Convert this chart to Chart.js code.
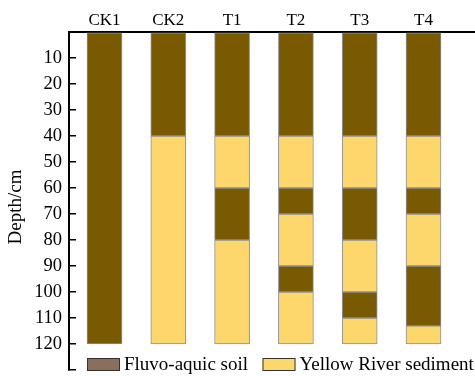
<!DOCTYPE html>
<html>
<head>
<meta charset="utf-8">
<script src="https://cdn.jsdelivr.net/npm/chart.js@4/dist/chart.umd.min.js"></script>
<style>
  html, body { margin: 0; padding: 0; background: #fff; overflow: hidden; }
  #wrap { width: 475px; height: 376px; position: relative; }
</style>
</head>
<body>
<div id="wrap"><canvas id="c" width="475" height="376"></canvas></div>
<script>
// Profiles (top axis categories)
const categories = ['CK1', 'CK2', 'T1', 'T2', 'T3', 'T4'];

// Depth intervals (cm) of each layer type in each profile
const soilLayers = [
  [[0, 120]],
  [[0, 40]],
  [[0, 40], [60, 80]],
  [[0, 40], [60, 70], [90, 100]],
  [[0, 40], [60, 80], [100, 110]],
  [[0, 40], [60, 70], [90, 113]]
];
const sedimentLayers = [
  [],
  [[40, 120]],
  [[40, 60], [80, 120]],
  [[40, 60], [70, 90], [100, 120]],
  [[40, 60], [80, 100], [110, 120]],
  [[40, 60], [70, 90], [113, 120]]
];

const seriesNames = ['Fluvo-aquic soil', 'Yellow River sediment'];
const depthTicks = [10, 20, 30, 40, 50, 60, 70, 80, 90, 100, 110, 120];
const yTitle = 'Depth/cm';

const barColors = ['#7a5a00', '#fed76c'];
const legendColors = ['#8c6e5c', '#fed76c'];

function toPoints(layers) {
  const out = [];
  layers.forEach((segs, i) => segs.forEach(s => out.push({ x: i + 1, y: [s[0], s[1]] })));
  return out;
}

const FONT = '"Liberation Serif", "Times New Roman", serif';
Chart.defaults.font.family = FONT;
Chart.defaults.font.size = 17;
Chart.defaults.color = '#000';

const overlayPlugin = {
  id: 'innerLegend',
  afterDraw(chart) {
    const ctx = chart.ctx;
    const area = chart.chartArea;
    const y = area.bottom - 5.5;
    const starts = [area.left + 18, area.left + 193.5];
    ctx.save();
    ctx.font = '19px ' + FONT;
    ctx.textBaseline = 'middle';
    ctx.textAlign = 'left';
    chart.data.datasets.forEach((ds, i) => {
      const x = starts[i];
      ctx.fillStyle = legendColors[i];
      ctx.fillRect(x, y - 6.5, 33, 13);
      ctx.lineWidth = 1;
      ctx.strokeStyle = '#333';
      ctx.strokeRect(x + 0.5, y - 6, 32, 12);
      ctx.fillStyle = '#000';
      ctx.fillText(ds.label, x + 37, y + 1);
    });
    // y-axis title
    ctx.translate(16.5, (area.top + area.bottom) / 2 + 6);
    ctx.rotate(-Math.PI / 2);
    ctx.textAlign = 'center';
    ctx.font = '19px ' + FONT;
    ctx.fillText(yTitle, 0, 0);
    ctx.restore();
  }
};

new Chart(document.getElementById('c'), {
  type: 'bar',
  data: {
    datasets: [
      {
        label: seriesNames[0],
        data: toPoints(soilLayers),
        backgroundColor: barColors[0],
        borderColor: '#8a909a',
        borderWidth: 1,
        borderSkipped: false,
        barThickness: 35,
        grouped: false
      },
      {
        label: seriesNames[1],
        data: toPoints(sedimentLayers),
        backgroundColor: barColors[1],
        borderColor: '#8a909a',
        borderWidth: 1,
        borderSkipped: false,
        barThickness: 35,
        grouped: false
      }
    ]
  },
  options: {
    responsive: false,
    animation: false,
    devicePixelRatio: 1,
    layout: { autoPadding: false, padding: { top: 0, left: 0, right: 0, bottom: 6 } },
    plugins: {
      legend: { display: false },
      tooltip: { enabled: false }
    },
    scales: {
      x: {
        type: 'linear',
        position: 'top',
        offset: false,
        min: 0.4436,
        max: 6.807,
        grid: { display: false, drawTicks: false, offset: false },
        border: { display: true, color: '#000', width: 2 },
        afterBuildTicks(scale) {
          scale.ticks = categories.map((c, i) => ({ value: i + 1 }));
        },
        afterFit(scale) {
          scale.height = 32;
          scale.paddingLeft = 0; scale.paddingRight = 0;
          scale.paddingTop = 0; scale.paddingBottom = 0;
        },
        ticks: {
          padding: 1,
          autoSkip: false,
          maxRotation: 0,
          callback: (v) => categories[v - 1] || ''
        }
      },
      y: {
        type: 'linear',
        reverse: true,
        min: 0,
        max: 130,
        stacked: false,
        grid: {
          display: true,
          drawOnChartArea: false,
          drawTicks: true,
          tickLength: -7,
          color: '#000',
          lineWidth: 1.5
        },
        border: { display: true, color: '#000', width: 2 },
        afterBuildTicks(scale) {
          scale.ticks = [0].concat(depthTicks, [130]).map(v => ({ value: v }));
        },
        afterFit(scale) {
          scale.width = 69;
          scale.paddingLeft = 0; scale.paddingRight = 0;
          scale.paddingTop = 0; scale.paddingBottom = 0;
        },
        ticks: {
          padding: 14,
          autoSkip: false,
          font: { size: 18.5 },
          callback: (v) => depthTicks.includes(v) ? String(v) : ''
        },
        title: { display: false }
      }
    }
  },
  plugins: [overlayPlugin]
});
</script>
</body>
</html>
